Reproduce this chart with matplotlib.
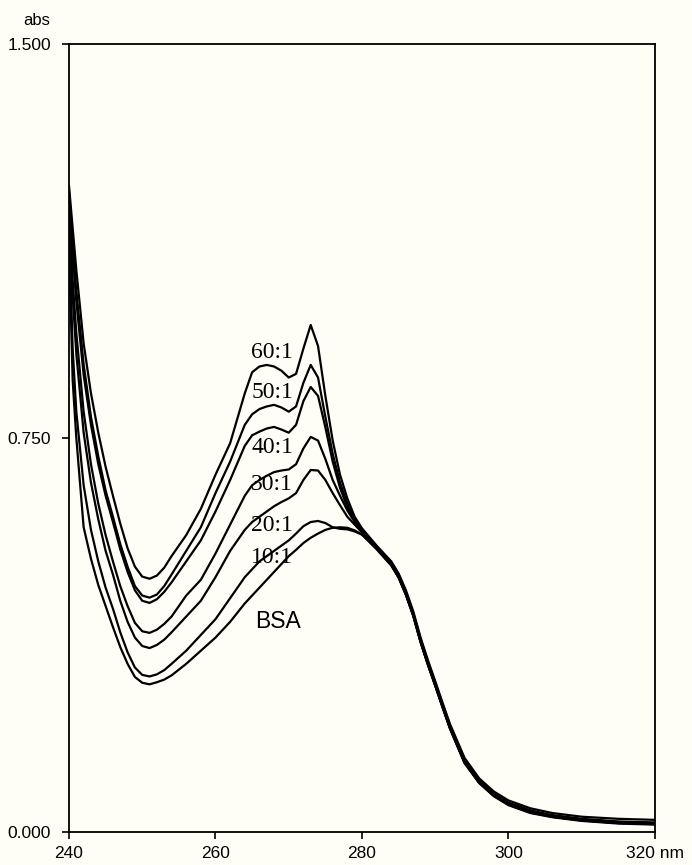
import matplotlib
matplotlib.use("Agg")
import matplotlib.pyplot as plt

wl = [240, 240.5, 241, 242, 243, 244, 245, 246, 247, 248,
      249, 250, 251, 252, 253, 254, 256, 258, 260, 262,
      264, 265, 266, 267, 268, 269, 270, 271, 272, 273,
      274, 275, 276, 277, 278, 279, 280, 282, 284, 285,
      286, 287, 288, 289, 290, 291, 292, 294, 296, 298,
      300, 303, 306, 310, 315, 320]

abs_60 = [1.23, 1.15, 1.07, 0.93, 0.835, 0.76, 0.695, 0.64, 0.587, 0.54,
          0.505, 0.486, 0.482, 0.488, 0.503, 0.525, 0.565, 0.615, 0.68, 0.74,
          0.835, 0.875, 0.886, 0.889, 0.886, 0.878, 0.865, 0.872, 0.92, 0.965,
          0.925, 0.83, 0.745, 0.68, 0.635, 0.6, 0.578, 0.545, 0.515, 0.492,
          0.46, 0.42, 0.37, 0.327, 0.287, 0.246, 0.206, 0.141, 0.102, 0.077,
          0.06, 0.045, 0.036, 0.029, 0.025, 0.023]
abs_50 = [1.22, 1.12, 1.03, 0.89, 0.79, 0.715, 0.65, 0.6, 0.548, 0.505,
          0.468, 0.45, 0.446, 0.452, 0.468, 0.49, 0.535, 0.58, 0.645, 0.705,
          0.775, 0.795, 0.805, 0.81, 0.813, 0.808, 0.8, 0.81, 0.855, 0.889,
          0.865, 0.79, 0.72, 0.665, 0.625, 0.595, 0.575, 0.543, 0.513, 0.49,
          0.457, 0.417, 0.367, 0.324, 0.284, 0.243, 0.203, 0.137, 0.098, 0.073,
          0.056, 0.041, 0.032, 0.025, 0.02, 0.018]
abs_40 = [1.21, 1.1, 1.01, 0.87, 0.775, 0.7, 0.64, 0.59, 0.538, 0.495,
          0.46, 0.44, 0.436, 0.443, 0.457, 0.475, 0.515, 0.555, 0.61, 0.67,
          0.735, 0.755, 0.762, 0.768, 0.771, 0.766, 0.76, 0.775, 0.82, 0.847,
          0.83, 0.77, 0.705, 0.655, 0.618, 0.592, 0.572, 0.542, 0.511, 0.488,
          0.455, 0.415, 0.365, 0.322, 0.282, 0.241, 0.201, 0.135, 0.097, 0.072,
          0.055, 0.04, 0.031, 0.024, 0.019, 0.017]
abs_30 = [1.2, 1.05, 0.95, 0.8, 0.7, 0.625, 0.565, 0.515, 0.468, 0.43,
          0.398, 0.382, 0.379, 0.385, 0.396, 0.41, 0.45, 0.48, 0.53, 0.585,
          0.64, 0.66, 0.67, 0.678, 0.685, 0.688, 0.69, 0.7, 0.73, 0.752,
          0.745, 0.71, 0.67, 0.64, 0.612, 0.59, 0.572, 0.54, 0.509, 0.486,
          0.453, 0.413, 0.363, 0.32, 0.28, 0.239, 0.199, 0.133, 0.095, 0.07,
          0.053, 0.038, 0.03, 0.023, 0.018, 0.016]
abs_20 = [1.18, 1.02, 0.91, 0.76, 0.665, 0.595, 0.535, 0.49, 0.44, 0.4,
          0.37, 0.354, 0.35, 0.356, 0.366, 0.38, 0.41, 0.44, 0.485, 0.535,
          0.575, 0.59, 0.6, 0.61, 0.62, 0.628, 0.635, 0.645, 0.67, 0.689,
          0.688, 0.67, 0.645, 0.622, 0.6, 0.585, 0.57, 0.54, 0.508, 0.485,
          0.452, 0.412, 0.362, 0.319, 0.279, 0.238, 0.198, 0.132, 0.094, 0.069,
          0.052, 0.037, 0.029, 0.022, 0.017, 0.015]
abs_10 = [1.15, 0.92, 0.8, 0.66, 0.575, 0.515, 0.465, 0.425, 0.38, 0.342,
          0.313, 0.299, 0.296, 0.3, 0.308, 0.32, 0.345, 0.375, 0.405, 0.445,
          0.485, 0.5, 0.515, 0.525, 0.535, 0.545, 0.555, 0.568, 0.582, 0.59,
          0.592, 0.588, 0.58, 0.577, 0.576, 0.572, 0.566, 0.538, 0.507, 0.484,
          0.451, 0.411, 0.361, 0.318, 0.278, 0.237, 0.197, 0.131, 0.093, 0.068,
          0.051, 0.036, 0.028, 0.021, 0.016, 0.014]
abs_bsa = [1.12, 0.86, 0.75, 0.58, 0.52, 0.47, 0.43, 0.39, 0.352, 0.32,
           0.295, 0.284, 0.281, 0.285, 0.29, 0.298, 0.32, 0.345, 0.37, 0.4,
           0.435, 0.45, 0.465, 0.48, 0.495, 0.51, 0.525, 0.537, 0.55, 0.56,
           0.568, 0.575, 0.579, 0.58, 0.579, 0.574, 0.566, 0.54, 0.508, 0.485,
           0.452, 0.412, 0.362, 0.319, 0.279, 0.238, 0.198, 0.132, 0.094, 0.069,
           0.052, 0.037, 0.029, 0.022, 0.017, 0.015]

series = [abs_60, abs_50, abs_40, abs_30, abs_20, abs_10, abs_bsa]
labels = ["60:1", "50:1", "40:1", "30:1", "20:1", "10:1", "BSA"]
label_pos = [(267.7, 0.912), (267.85, 0.836), (267.85, 0.731), (267.7, 0.661),
             (267.7, 0.584), (267.7, 0.522), (268.5, 0.40)]

xticks = [240, 260, 280, 300, 320]
xticklabels = ["240", "260", "280", "300", "320 nm"]
yticks = [0.0, 0.75, 1.5]
yticklabels = ["0.000", "0.750", "1.500"]

bg = "#fffef6"
fig = plt.figure(figsize=(6.92, 8.65), dpi=100, facecolor=bg)
ax = fig.add_axes([0.0997, 0.0382, 0.8468, 0.911], facecolor=bg)

for y in series:
    ax.plot(wl, y, color="black", lw=1.6, solid_joinstyle="round")

for lab, (x, y) in zip(labels, label_pos):
    if lab == "BSA":
        ax.text(x, y, lab, fontsize=16.5, family="Liberation Sans",
                ha="center", va="center")
    else:
        ax.text(x, y, lab, fontsize=17, family="Liberation Serif",
                ha="center", va="center")

ax.set_xlim(240, 320)
ax.set_ylim(0, 1.5)
ax.set_xticks(xticks)
ax.set_xticklabels(xticklabels, family="Liberation Sans", fontsize=12.5)
ax.set_yticks(yticks)
ax.set_yticklabels(yticklabels, family="Liberation Sans", fontsize=12.5)
ax.tick_params(direction="out", length=5, width=1.2)
ax.tick_params(axis="x", pad=5)
ax.tick_params(axis="y", pad=8)
for s in ax.spines.values():
    s.set_linewidth(1.3)

ax.text(-0.033, 1.02, "abs", transform=ax.transAxes, fontsize=12,
        family="Liberation Sans", ha="right", va="bottom")

fig.savefig("out.png", dpi=100, facecolor=bg)
